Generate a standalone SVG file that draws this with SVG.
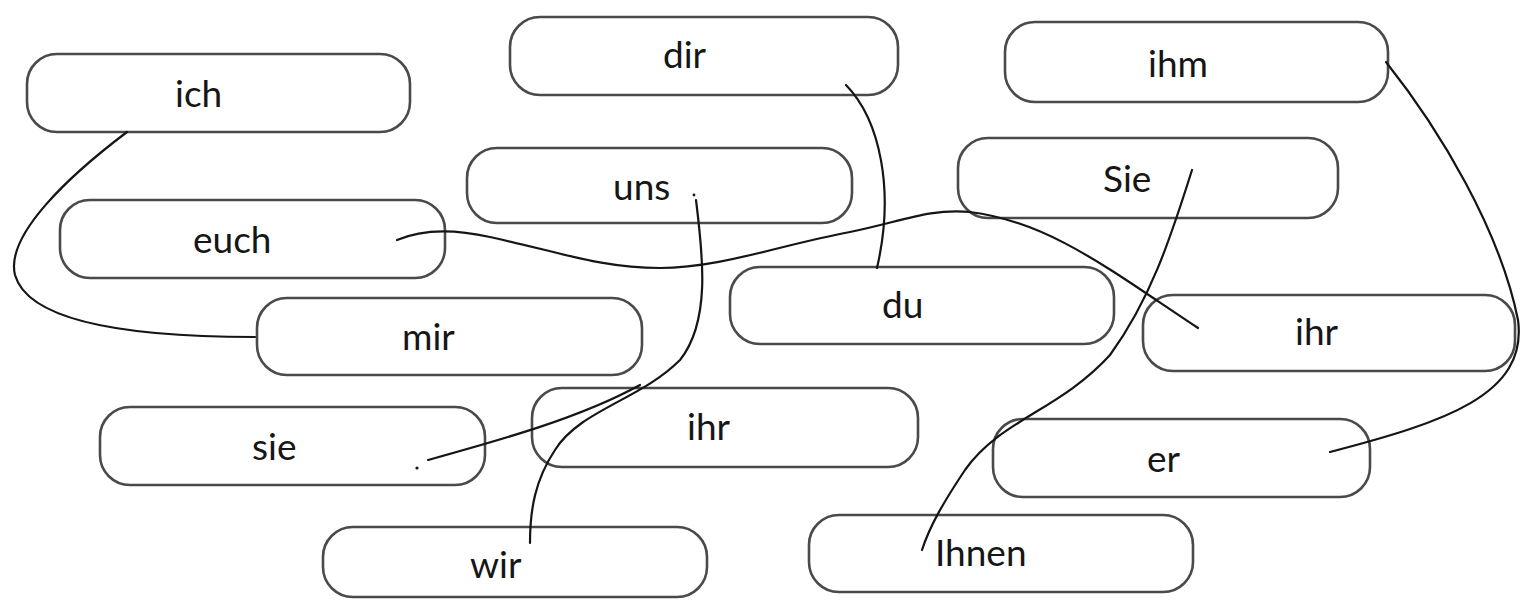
<svg xmlns="http://www.w3.org/2000/svg" width="1521" height="602" viewBox="0 0 1521 602">
<style>
.box{fill:#fff;stroke:#4a4a4a;stroke-width:2.6}
.lbl{font-family:Lato,"Noto Sans","Liberation Sans",sans-serif;font-size:37px;fill:#161616}
.ln{fill:none;stroke:#151515;stroke-width:2.2;stroke-linecap:round}
</style>
<rect width="1521" height="602" fill="#fff"/>
<g id="n-ich"><rect class="box" x="27" y="54" width="383" height="78" rx="30"/><text class="lbl" x="175" y="107">ich</text></g>
<g id="n-euch"><rect class="box" x="60" y="200" width="385" height="78" rx="30"/><text class="lbl" x="193" y="253">euch</text></g>
<g id="n-dir"><rect class="box" x="510" y="17" width="388" height="78" rx="30"/><text class="lbl" x="663" y="68">dir</text></g>
<g id="n-uns"><rect class="box" x="467" y="148" width="385" height="75" rx="30"/><text class="lbl" x="613" y="200">uns</text></g>
<g id="n-ihm"><rect class="box" x="1005" y="22" width="383" height="80" rx="30"/><text class="lbl" x="1148" y="77">ihm</text></g>
<g id="n-Sie"><rect class="box" x="958" y="138" width="380" height="80" rx="30"/><text class="lbl" x="1103" y="192">Sie</text></g>
<g id="n-mir"><rect class="box" x="257" y="298" width="385" height="77" rx="30"/><text class="lbl" x="402" y="350">mir</text></g>
<g id="n-du"><rect class="box" x="730" y="267" width="384" height="77" rx="30"/><text class="lbl" x="882" y="318">du</text></g>
<g id="n-ihr-right"><rect class="box" x="1143" y="295" width="372" height="76" rx="30"/><text class="lbl" x="1295" y="345">ihr</text></g>
<g id="n-sie"><rect class="box" x="100" y="407" width="385" height="78" rx="30"/><text class="lbl" x="252" y="460">sie</text></g>
<g id="n-ihr-mid"><rect class="box" x="532" y="388" width="386" height="79" rx="30"/><text class="lbl" x="687" y="440">ihr</text></g>
<g id="n-er"><rect class="box" x="993" y="419" width="377" height="78" rx="30"/><text class="lbl" x="1147" y="472">er</text></g>
<g id="n-wir"><rect class="box" x="323" y="527" width="384" height="70" rx="30"/><text class="lbl" x="470" y="578">wir</text></g>
<g id="n-Ihnen"><rect class="box" x="809" y="515" width="384" height="77" rx="30"/><text class="lbl" x="935" y="566">Ihnen</text></g>
<g id="connectors">
<path class="ln" d="M127,132 C70,175 5,235 15,275 C28,320 120,337 255,337"/>
<path class="ln" d="M397,240 C420,230 450,228 490,237 C560,252 600,268 660,268 C720,268 780,245 850,232 C900,222 930,208 970,212 C1050,222 1110,270 1198,328"/>
<path class="ln" d="M846,85 C880,120 895,190 877,268"/>
<path class="ln" d="M696,200 C702,250 712,320 680,360 C640,400 580,410 555,450 C535,480 530,510 530,543"/>
<path class="ln" d="M428,460 C500,440 580,418 640,385"/>
<circle cx="417" cy="468" r="1.6" fill="#151515"/>
<circle cx="694" cy="195" r="1.4" fill="#151515"/>
<path class="ln" d="M1192,170 C1170,240 1150,300 1110,355 C1060,410 1000,420 965,470 C945,500 930,525 922,550"/>
<path class="ln" d="M1386,62 C1440,130 1500,230 1518,320 C1528,395 1445,422 1330,452"/>
</g>
</svg>
